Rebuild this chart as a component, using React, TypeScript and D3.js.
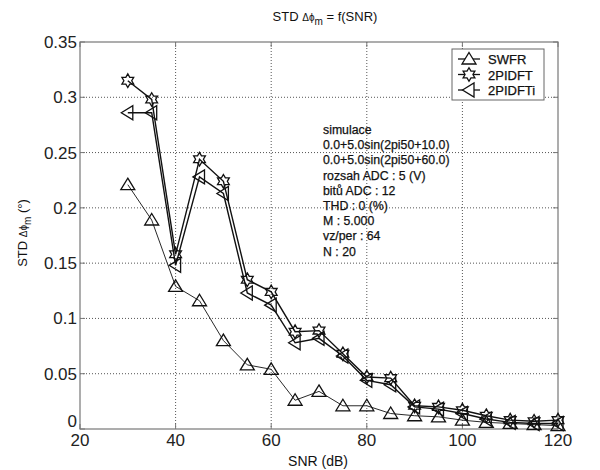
import React from "react";
import * as d3 from "d3";

const snr = [30, 35, 40, 45, 50, 55, 60, 65, 70, 75, 80, 85, 90, 95, 100, 105, 110, 115, 120];
const swfr = [0.221, 0.189, 0.129, 0.116, 0.080, 0.058, 0.054, 0.026, 0.034, 0.021, 0.021, 0.014, 0.012, 0.011, 0.008, 0.006, 0.005, 0.004, 0.003];
const dft = [0.315, 0.298, 0.158, 0.244, 0.224, 0.135, 0.124, 0.088, 0.089, 0.068, 0.047, 0.046, 0.021, 0.020, 0.017, 0.012, 0.008, 0.007, 0.008];
const dfti = [0.286, 0.286, 0.148, 0.228, 0.213, 0.123, 0.112, 0.078, 0.082, 0.066, 0.044, 0.040, 0.020, 0.018, 0.014, 0.009, 0.006, 0.005, 0.005];
const seriesNames = ["SWFR", "2PIDFT", "2PIDFTi"];
const xTicks = [20, 40, 60, 80, 100, 120];
const yTicks = [0, 0.05, 0.1, 0.15, 0.2, 0.25, 0.3, 0.35];
const infoLines = [
  "simulace",
  "0.0+5.0sin(2pi50+10.0)",
  "0.0+5.0sin(2pi50+60.0)",
  "rozsah ADC : 5 (V)",
  "bitů ADC : 12",
  "THD : 0 (%)",
  "M : 5.000",
  "vz/per : 64",
  "N : 20",
];

const W = 600;
const H = 470;
const L = 80, R = 558, T = 42, B = 429;
const FONT = "'Liberation Sans', Arial, Helvetica, sans-serif";

const x = d3.scaleLinear().domain([20, 120]).range([L, R]);
const y = d3.scaleLinear().domain([0, 0.35]).range([B, T]);

function triUp(cx: number, cy: number) {
  return `M${cx},${cy - 6.5}L${cx + 7},${cy + 5}L${cx - 7},${cy + 5}Z`;
}
function triLeft(cx: number, cy: number) {
  return `M${cx - 6.5},${cy}L${cx + 5},${cy - 7}L${cx + 5},${cy + 7}Z`;
}
function hexagram(cx: number, cy: number) {
  const ro = 6.8, ri = ro / Math.sqrt(3);
  const pts: string[] = [];
  for (let i = 0; i < 12; i++) {
    const r = i % 2 === 0 ? ro : ri;
    const a = -Math.PI / 2 + (i * Math.PI) / 6;
    pts.push(`${(cx + r * Math.cos(a)).toFixed(2)},${(cy + r * Math.sin(a)).toFixed(2)}`);
  }
  return "M" + pts.join("L") + "Z";
}

const markers = [triUp, hexagram, triLeft];
const data = [swfr, dft, dfti];
const widths = [0.9, 1.4, 1.4];

export default function App() {
  const line = d3
    .line<number>()
    .x((_, i) => x(snr[i]))
    .y((d) => y(d));

  return (
    <svg width={W} height={H} style={{ position: "absolute", left: 0, top: 0, background: "#fff" }} fontFamily={FONT}>
      <rect x={0} y={0} width={W} height={H} fill="#fff" />
      {xTicks.slice(1, -1).map((t) => (
        <line key={"gx" + t} x1={x(t)} x2={x(t)} y1={T} y2={B} stroke="#555" strokeWidth={1} strokeDasharray="1,2" />
      ))}
      {yTicks.slice(1, -1).map((t) => (
        <line key={"gy" + t} x1={L} x2={R} y1={y(t)} y2={y(t)} stroke="#555" strokeWidth={1} strokeDasharray="1,2" />
      ))}
      <rect x={L} y={T} width={R - L} height={B - T} fill="none" stroke="#777" strokeWidth={1.2} />
      {xTicks.map((t) => (
        <g key={"tx" + t}>
          <line x1={x(t)} x2={x(t)} y1={B} y2={B - 5} stroke="#777" />
          <line x1={x(t)} x2={x(t)} y1={T} y2={T + 5} stroke="#777" />
          <text x={x(t)} y={B + 17} textAnchor="middle" fontSize={17} fill="#222">
            {t}
          </text>
        </g>
      ))}
      {yTicks.map((t) => (
        <g key={"ty" + t}>
          <line x1={L} x2={L + 5} y1={y(t)} y2={y(t)} stroke="#777" />
          <line x1={R} x2={R - 5} y1={y(t)} y2={y(t)} stroke="#777" />
          <text x={L - 3} y={y(t) + (t === 0 ? -2 : 6)} textAnchor="end" fontSize={17} fill="#222">
            {t}
          </text>
        </g>
      ))}
      {data.map((vals, si) => (
        <g key={"s" + si}>
          <path d={line(vals) || ""} fill="none" stroke="#111" strokeWidth={widths[si]} />
          {vals.map((v, i) => (
            <path key={i} d={markers[si](x(snr[i]), y(v))} fill="none" stroke="#111" strokeWidth={1.3} />
          ))}
        </g>
      ))}
      {infoLines.map((s, i) => (
        <text key={"info" + i} x={323} y={134 + i * 15.2} fontSize={12.3} fill="#111" stroke="#111" strokeWidth={0.25}>
          {s}
        </text>
      ))}
      <rect x={452} y={49} width={92} height={51} fill="#fff" stroke="#666" strokeWidth={1} />
      {seriesNames.map((n, i) => {
        const ly = 59 + i * 15.5;
        return (
          <g key={"lg" + i}>
            <line x1={458} x2={480} y1={ly} y2={ly} stroke="#111" strokeWidth={1.3} />
            <path d={markers[i](469, ly)} fill="#fff" stroke="#111" strokeWidth={1.3} />
            <text x={488} y={ly + 5} fontSize={13} fill="#111" stroke="#111" strokeWidth={0.25}>
              {n}
            </text>
          </g>
        );
      })}
      <text x={325} y={21} textAnchor="middle" fontSize={13} fill="#111">
        STD <tspan fontSize={10}>Δϕ</tspan>
        <tspan fontSize={10} dy={4}>m</tspan>
        <tspan dy={-4}> = f(SNR)</tspan>
      </text>
      <text x={318} y={466} textAnchor="middle" fontSize={14} fill="#111">
        SNR (dB)
      </text>
      <text transform={`translate(27,233) rotate(-90)`} textAnchor="middle" fontSize={13} fill="#111">
        STD <tspan fontSize={10}>Δϕ</tspan>
        <tspan fontSize={10} dy={4}>m</tspan>
        <tspan dy={-4}> (°)</tspan>
      </text>
    </svg>
  );
}
